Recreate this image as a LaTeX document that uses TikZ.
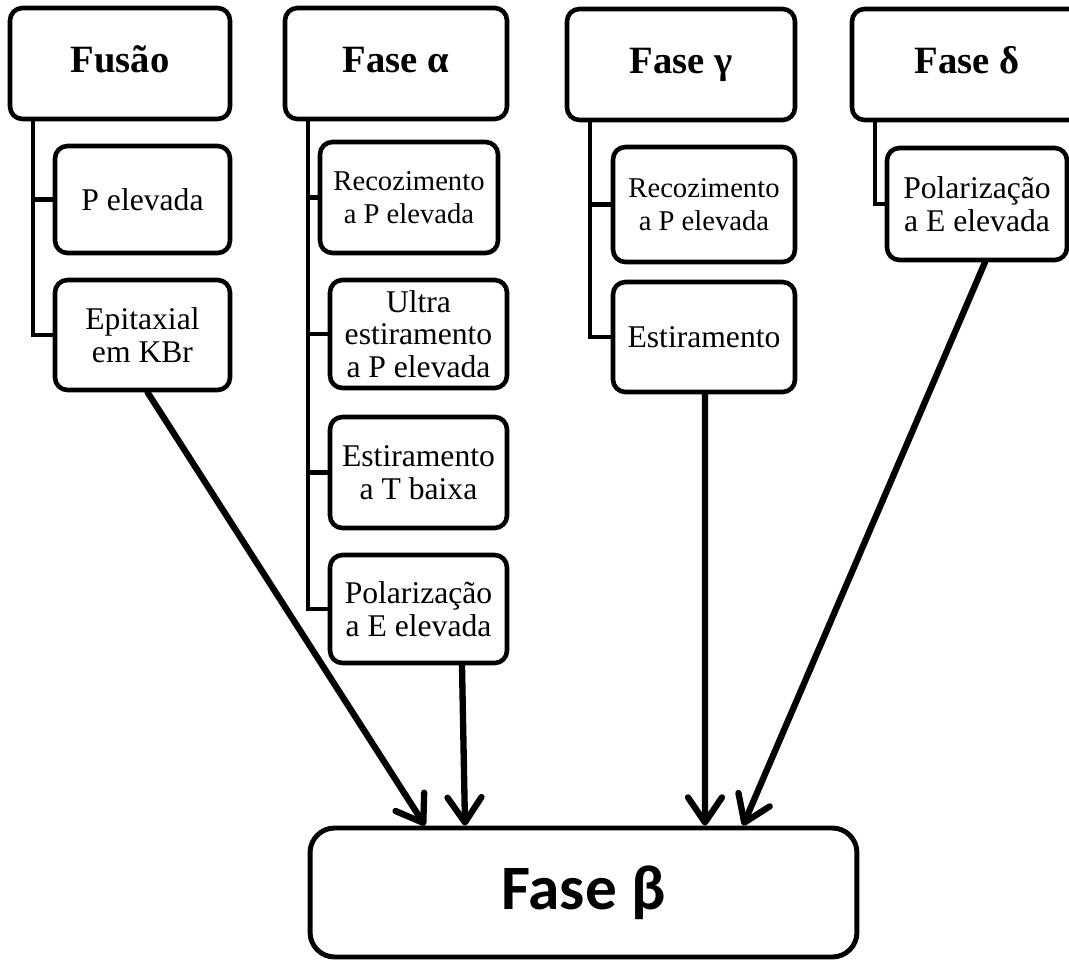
\documentclass[tikz,border=0pt]{standalone}
\usepackage{fontspec}
\setmainfont{Liberation Serif}
\newfontfamily\calibri{Carlito}
\usepackage{tikz}
\usetikzlibrary{arrows.meta,positioning}

\begin{document}
\begin{tikzpicture}[x=0.02cm,y=-0.02cm,
        head/.style={draw,line width=2.6pt,rounded corners=7pt,
                     font=\fontsize{22}{25}\selectfont\bfseries,
                     minimum height=2.22cm,inner sep=2pt,align=center,
                     text height=15pt,text depth=5pt},
        sub/.style={draw,line width=2.6pt,rounded corners=7pt,
                    font=\fontsize{18}{18.6}\selectfont,
                    inner sep=1pt,align=center},
        small/.style={font=\fontsize{16.3}{18.6}\selectfont},
        tree/.style={line width=2.5pt},
        arr/.style={-{Straight Barb[length=0.5cm,width=0.68cm,round]},
                    line width=3.6pt,line cap=round}
      ]
        \useasboundingbox (0,0) rectangle (1069,960);
        % top row
        \node[head,minimum width=4.4cm] (F) at (120,63.5) {Fusão};
        \node[head,minimum width=4.44cm] (A) at (396,63.5) {Fase α};
        \node[head,minimum width=4.56cm] (G) at (681,64.5) {Fase γ};
        \node[head,minimum width=4.6cm] (D) at (967,64.5) {Fase δ};
        % Fusao
        \node[sub,minimum width=3.5cm,minimum height=2.14cm] (F1) at (142.5,199.5) {P elevada};
        \node[sub,minimum width=3.5cm,minimum height=2.2cm] (F2) at (142.5,335) {Epitaxial\\em KBr};
        % fase alfa
        \node[sub,small,minimum width=3.56cm,minimum height=2.22cm] (A1) at (409,197.5) {Recozimento\\a P elevada};
        \node[sub,minimum width=3.54cm,minimum height=2.16cm] (A2) at (418.5,334) {Ultra\\estiramento\\a P elevada};
        \node[sub,minimum width=3.54cm,minimum height=2.22cm] (A3) at (418.5,472.5) {Estiramento\\a T baixa};
        \node[sub,minimum width=3.54cm,minimum height=2.16cm] (A4) at (418.5,609) {Polarização\\a E elevada};
        % fase gama
        \node[sub,small,minimum width=3.64cm,minimum height=2.3cm] (G1) at (704,204.5) {Recozimento\\a P elevada};
        \node[sub,minimum width=3.64cm,minimum height=2.2cm] (G2) at (704,337) {Estiramento};
        % fase delta
        \node[sub,minimum width=3.6cm,minimum height=2.24cm] (D1) at (977,204) {Polarização\\a E elevada};
        % fase beta
        \node[draw,line width=2.8pt,rounded corners=14pt,minimum width=10.94cm,
              minimum height=2.58cm,font=\calibri\fontsize{36}{40}\selectfont\bfseries]
              (B) at (583.5,892.5) {Fase β};
        % trunks
        \coordinate (Ft) at (33,119);
        \coordinate (At) at (308,119);
        \coordinate (Gt) at (590,121);
        \coordinate (Dt) at (875,121);
        \draw[tree] (Ft) |- (F1.west);
        \draw[tree] (Ft) |- (F2.west);
        \draw[tree] (At) |- (A1.west);
        \draw[tree] (At) |- (A2.west);
        \draw[tree] (At) |- (A3.west);
        \draw[tree] (At) |- (A4.west);
        \draw[tree] (Gt) |- (G1.west);
        \draw[tree] (Gt) |- (G2.west);
        \draw[tree] (Dt) |- (D1.west);
        % arrows to beta
        \draw[arr] ([xshift=0.1cm]F2.south)--([xshift=-3.17cm]B.north);
        \draw[arr] ([xshift=0.87cm]A4.south)--([xshift=-2.37cm]B.north);
        \draw[arr] ([xshift=0.02cm]G2.south)--([xshift=2.43cm]B.north);
        \draw[arr] ([xshift=0.16cm]D1.south)--([xshift=3.19cm]B.north);
      \end{tikzpicture}
\end{document}
